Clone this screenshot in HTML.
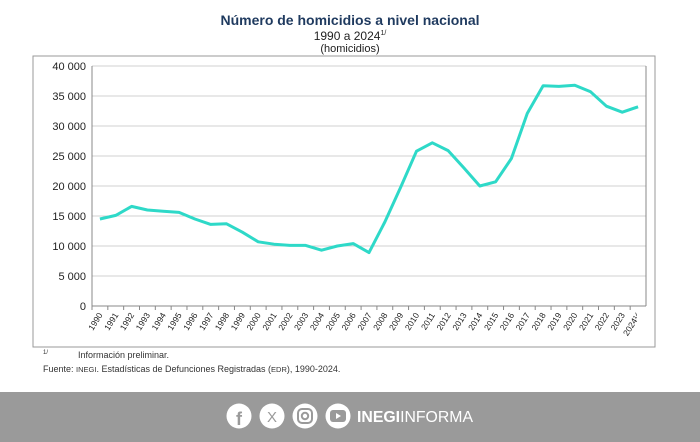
<!DOCTYPE html>
<html><head><meta charset="utf-8"><style>
body{margin:0;width:700px;height:442px;background:#fff;font-family:"Liberation Sans",sans-serif;overflow:hidden;position:relative}
.t{position:absolute;left:0;width:700px;text-align:center}
</style></head><body>
<div class="t" style="top:12px;font-size:14px;font-weight:bold;color:#1f3a5f">Número de homicidios a nivel nacional</div>
<div class="t" style="top:29px;font-size:12px;color:#222">1990 a 2024<sup style="font-size:7px">1/</sup></div>
<div class="t" style="top:43px;font-size:11px;color:#222">(homicidios)</div>
<svg width="700" height="442" style="position:absolute;left:0;top:0">
<rect x="33" y="56" width="622" height="291" fill="none" stroke="#999" stroke-width="1"/>
<g id="grid"></g><g id="xt"></g>
<polyline id="line" fill="none" stroke="#2ed9c8" stroke-width="3" stroke-linejoin="round"/>
</svg>
<div style="position:absolute;left:43px;top:350px;font-size:9px;color:#333"><sup style="font-size:6px">1/</sup><span style="margin-left:30px">Información preliminar.</span></div>
<div style="position:absolute;left:43px;top:364px;font-size:9px;color:#333">Fuente: <span style="font-size:7.5px">INEGI</span>. Estadísticas de Defunciones Registradas (<span style="font-size:7.5px">EDR</span>), 1990-2024.</div>
<div style="position:absolute;left:0;top:392px;width:700px;height:50px;background:#9a9a9a">
<svg width="700" height="50" style="position:absolute;left:0;top:0">
<g><circle cx="239" cy="24" r="12.5" fill="#fff"/><text x="239" y="33" text-anchor="middle" font-size="18" font-weight="bold" fill="#9a9a9a" font-family="Liberation Sans">f</text></g>
<g><circle cx="272" cy="24" r="12.5" fill="#fff"/><text x="272" y="30" text-anchor="middle" font-size="15" fill="#9a9a9a" font-family="Liberation Sans">X</text></g>
<g><circle cx="305" cy="24" r="12.5" fill="#fff"/><rect x="298" y="17" width="14" height="14" rx="4" fill="none" stroke="#9a9a9a" stroke-width="2"/><circle cx="305" cy="24" r="3.2" fill="none" stroke="#9a9a9a" stroke-width="2"/></g>
<g><circle cx="338" cy="24" r="12.5" fill="#fff"/><rect x="330" y="18" width="16" height="12" rx="3" fill="#9a9a9a"/><polygon points="336,21 336,27 341,24" fill="#fff"/></g>
<text x="357" y="30" font-size="16" fill="#fff" font-family="Liberation Sans" textLength="116" lengthAdjust="spacingAndGlyphs"><tspan font-weight="bold">INEGI</tspan>INFORMA</text>
</svg></div>
<script>
const years=[1990,1991,1992,1993,1994,1995,1996,1997,1998,1999,2000,2001,2002,2003,2004,2005,2006,2007,2008,2009,2010,2011,2012,2013,2014,2015,2016,2017,2018,2019,2020,2021,2022,2023,2024];
const homicides=[14500,15100,16600,16000,15800,15600,14500,13600,13700,12300,10700,10300,10100,10100,9300,10000,10400,8900,14000,19800,25800,27200,25900,23000,20000,20700,24600,32100,36700,36600,36800,35700,33300,32300,33200];
const yTicks=[0,5000,10000,15000,20000,25000,30000,35000,40000];
const yLabels=["0","5 000","10 000","15 000","20 000","25 000","30 000","35 000","40 000"];
const NS="http://www.w3.org/2000/svg";
const L=92,R=646,T=66,B=306,ymax=40000;
const cw=(R-L)/years.length;
const xs=i=>L+cw*(i+0.5);
const ys=v=>B-(v/ymax)*(B-T);
const g=document.getElementById('grid'),xt=document.getElementById('xt');
yTicks.forEach((v,i)=>{
 const ln=document.createElementNS(NS,'line');
 
 
 ln.setAttribute('x1',L);ln.setAttribute('x2',R);ln.setAttribute('y1',ys(v));ln.setAttribute('y2',ys(v));
 ln.setAttribute('stroke',v===0?'#888':'#d0d0d0');ln.setAttribute('stroke-width','1');g.appendChild(ln);
 const t=document.createElementNS(NS,'text');
 
 
 t.setAttribute('x',L-6);t.setAttribute('y',ys(v)+4);t.setAttribute('text-anchor','end');t.setAttribute('font-size','11');t.setAttribute('fill','#222');t.textContent=yLabels[i];g.appendChild(t);
});
const ax=document.createElementNS(NS,'line');


ax.setAttribute('x1',L);ax.setAttribute('x2',L);ax.setAttribute('y1',T);ax.setAttribute('y2',B);ax.setAttribute('stroke','#888');g.appendChild(ax);
const ax2=document.createElementNS(NS,'line');


ax2.setAttribute('x1',R);ax2.setAttribute('x2',R);ax2.setAttribute('y1',T);ax2.setAttribute('y2',B);ax2.setAttribute('stroke','#888');g.appendChild(ax2);
years.forEach((y,i)=>{
 const tk=document.createElementNS(NS,'line');
 
 
 const x=L+cw*i;tk.setAttribute('x1',x);tk.setAttribute('x2',x);tk.setAttribute('y1',B);tk.setAttribute('y2',B+4);tk.setAttribute('stroke','#888');xt.appendChild(tk);
 const t=document.createElementNS(NS,'text');
 
 
 const cx=xs(i)+3,cy=B+9;
 t.setAttribute('x',cx);t.setAttribute('y',cy);t.setAttribute('text-anchor','end');t.setAttribute('font-size','8.5');t.setAttribute('fill','#222');
 t.setAttribute('transform','rotate(-58 '+cx+' '+cy+')');
 t.textContent=y+(i===years.length-1?'¹ᐟ':'');xt.appendChild(t);
});
document.getElementById('line').setAttribute('points',homicides.map((v,i)=>xs(i)+','+ys(v)).join(' '));
</script>
</body></html>
